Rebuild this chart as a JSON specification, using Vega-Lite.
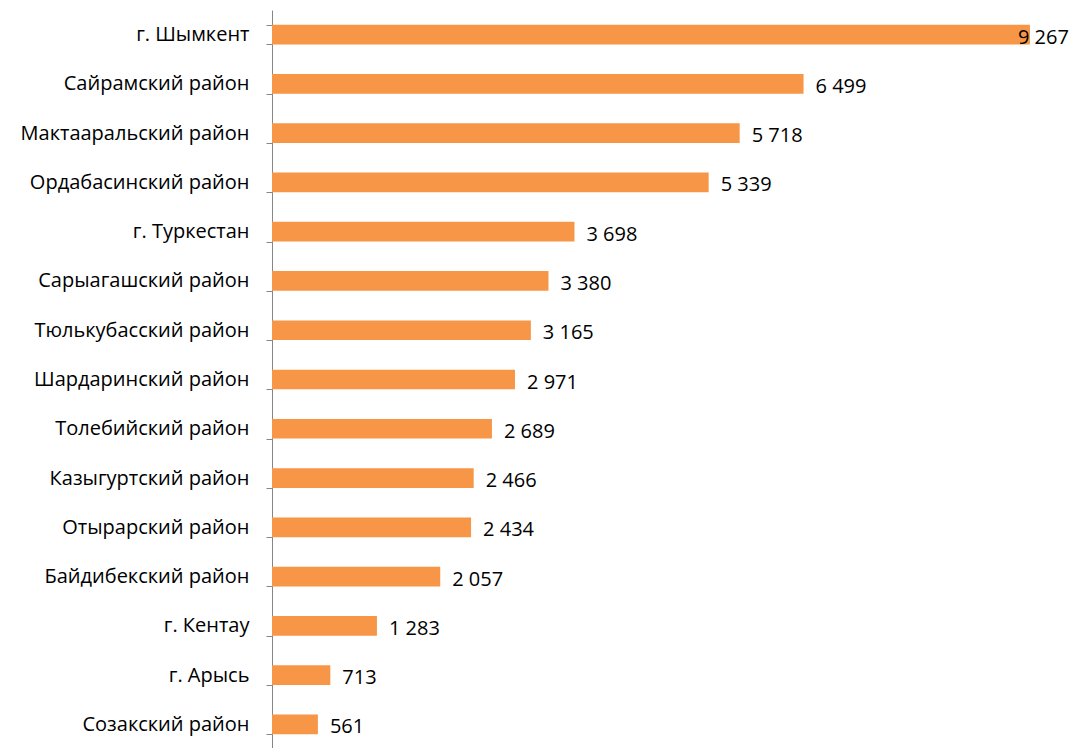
{
  "$schema": "https://vega.github.io/schema/vega-lite/v6.json",
  "autosize": "none",
  "width": 804,
  "height": 739,
  "padding": {"left": 272, "top": 10, "right": 0, "bottom": 0},
  "background": "white",
  "config": {
    "view": {"stroke": null},
    "font": "Open Sans",
    "locale": {"number": {"decimal": ",", "thousands": " ", "grouping": [3], "currency": ["", ""]}}
  },
  "data": {"values": [
    {"name": "г. Шымкент", "value": 9267},
    {"name": "Сайрамский район", "value": 6499},
    {"name": "Мактааральский район", "value": 5718},
    {"name": "Ордабасинский район", "value": 5339},
    {"name": "г. Туркестан", "value": 3698},
    {"name": "Сарыагашский район", "value": 3380},
    {"name": "Тюлькубасский район", "value": 3165},
    {"name": "Шардаринский район", "value": 2971},
    {"name": "Толебийский район", "value": 2689},
    {"name": "Казыгуртский район", "value": 2466},
    {"name": "Отырарский район", "value": 2434},
    {"name": "Байдибекский район", "value": 2057},
    {"name": "г. Кентау", "value": 1283},
    {"name": "г. Арысь", "value": 713},
    {"name": "Созакский район", "value": 561}
  ]},
  "encoding": {
    "y": {"field": "name", "type": "nominal", "sort": null,
      "scale": {"paddingInner": 0.6, "paddingOuter": 0.3},
      "axis": {"title": null, "tickBand": "extent", "domainColor": "#868686", "tickColor": "#868686",
        "tickSize": 6, "labelPadding": 17, "labelFontSize": 20, "labelLimit": 0, "labelColor": "#000000", "labelFont": "Open Sans"}},
    "x": {"field": "value", "type": "quantitative", "scale": {"domain": [0, 9830]}, "axis": null}
  },
  "layer": [
    {"mark": {"type": "bar", "color": "#F79646"}},
    {"transform": [{"filter": "datum.value < 9000"}],
     "mark": {"type": "text", "align": "left", "dx": 12, "dy": 3, "fontSize": 20, "color": "#000000", "font": "Open Sans"},
     "encoding": {"text": {"field": "value", "type": "quantitative", "format": ",d"}}},
    {"transform": [{"filter": "datum.value >= 9000"}],
     "mark": {"type": "text", "align": "left", "dx": -12, "dy": 3, "fontSize": 20, "color": "#000000", "font": "Open Sans"},
     "encoding": {"text": {"field": "value", "type": "quantitative", "format": ",d"}}}
  ]
}
